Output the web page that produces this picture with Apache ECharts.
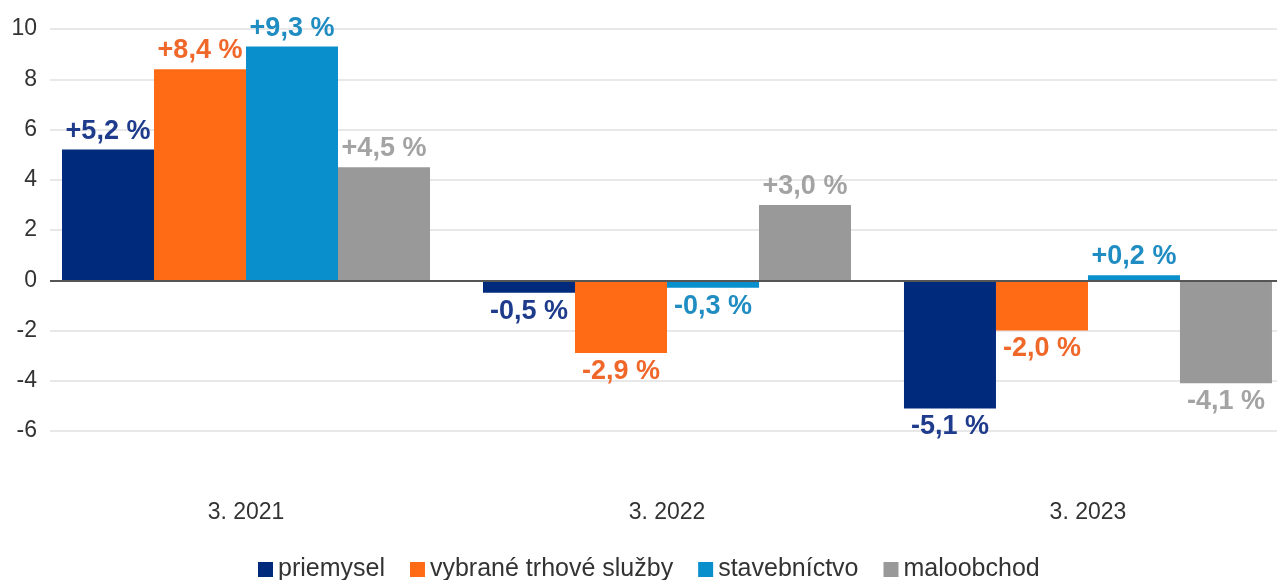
<!DOCTYPE html>
<html>
<head>
<meta charset="utf-8">
<script src="https://cdn.jsdelivr.net/npm/echarts@6/dist/echarts.min.js"></script>
<style>
html,body{margin:0;padding:0;background:#fff;}
#chart{width:1277px;height:580px;}
</style>
</head>
<body>
<div id="chart"></div>
<script>
var categories = ['3. 2021', '3. 2022', '3. 2023'];
var seriesNames = ['priemysel', 'vybrané trhové služby', 'stavebníctvo', 'maloobchod'];
var priemysel = [5.2, -0.5, -5.1];
var sluzby = [8.4, -2.9, -2.0];
var stavebnictvo = [9.3, -0.3, 0.2];
var maloobchod = [4.5, 3.0, -4.1];
var yTicks = [-6, -4, -2, 0, 2, 4, 6, 8, 10];

var barColors = ['#002a7c', '#ff6a14', '#0a8fcd', '#999999'];
var labelColors = ['#1e3b8c', '#f0672a', '#1f8cc2', '#a3a3a3'];
var allValues = [priemysel, sluzby, stavebnictvo, maloobchod];
var FONT = 'Liberation Sans, Arial, sans-serif';

function fmt(v) {
  var s = Math.abs(v).toFixed(1).replace('.', ',');
  return (v >= 0 ? '+' : '-') + s + ' %';
}

var catIdx = categories.map(function (c, i) { return i; });

var series = allValues.map(function (vals, i) {
  var s = {
    name: seriesNames[i],
    type: 'bar',
    barWidth: 92,
    barGap: '0%',
    itemStyle: { color: barColors[i] },
    data: vals.map(function (v, j) {
      return {
        value: [catIdx[j], v],
        label: { position: v >= 0 ? 'top' : 'bottom' }
      };
    }),
    label: {
      show: true,
      formatter: function (p) { return fmt(p.value[1]); },
      color: labelColors[i],
      fontFamily: FONT,
      fontSize: 27,
      fontWeight: 'bold',
      distance: 5
    }
  };
  if (i === 3) {
    s.markLine = {
      silent: true,
      symbol: 'none',
      label: { show: false },
      lineStyle: { color: '#555555', width: 2, type: 'solid' },
      data: [{ yAxis: 0 }]
    };
  }
  return s;
});

var chart = echarts.init(document.getElementById('chart'));
chart.setOption({
  animation: false,
  backgroundColor: '#ffffff',
  grid: { left: 50, right: 0, top: 29, height: 402, containLabel: false },
  legend: {
    top: 552,
    left: 253,
    itemWidth: 15,
    itemHeight: 15,
    itemGap: 25,
    icon: 'rect',
    textStyle: { fontFamily: FONT, fontSize: 25, color: '#333333' },
    data: seriesNames
  },
  xAxis: {
    type: 'value',
    min: -0.4656,
    max: 2.449,
    axisLine: { show: false, onZero: false },
    axisTick: { show: false },
    splitLine: { show: false },
    axisLabel: {
      customValues: catIdx,
      formatter: function (v) { return categories[Math.round(v)]; },
      margin: 70, fontFamily: FONT, fontSize: 23, color: '#333333'
    }
  },
  yAxis: {
    type: 'value',
    min: yTicks[0],
    max: yTicks[yTicks.length - 1],
    interval: 2,
    axisLine: { show: false },
    axisTick: { show: false },
    splitLine: { lineStyle: { color: '#e0e0e0', width: 1.5 } },
    axisLabel: { margin: 13, fontFamily: FONT, fontSize: 23, color: '#333333' }
  },
  series: series
});
</script>
</body>
</html>
